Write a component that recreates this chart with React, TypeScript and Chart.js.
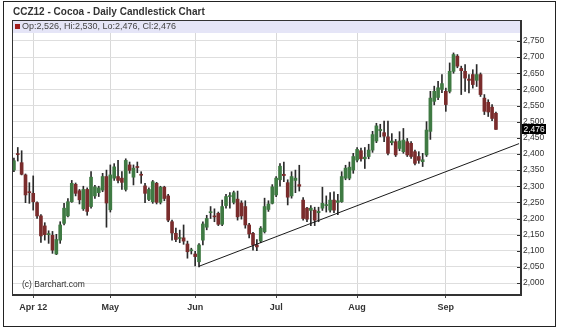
import React, { useEffect, useRef } from 'react';
import { Chart, registerables } from 'chart.js';

Chart.register(...registerables);

const title = 'CCZ12 - Cocoa - Daily Candlestick Chart';
const legendText = 'Op:2,526, Hi:2,530, Lo:2,476, Cl:2,476';
const copyright = '(c) Barchart.com';

const dates = [
  '03-26', '03-27', '03-28', '03-29', '03-30',
  '04-02', '04-03', '04-04', '04-05', '04-09', '04-10', '04-11', '04-12', '04-13', '04-16',
  '04-17', '04-18', '04-19', '04-20', '04-23', '04-24', '04-25', '04-26', '04-27', '04-30',
  '05-01', '05-02', '05-03', '05-04', '05-07', '05-08', '05-09', '05-10', '05-11', '05-14',
  '05-15', '05-16', '05-17', '05-18', '05-21', '05-22', '05-23', '05-24', '05-25', '05-29',
  '05-30', '05-31',
  '06-01', '06-04', '06-05', '06-06', '06-07', '06-08', '06-11', '06-12', '06-13', '06-14',
  '06-15', '06-18', '06-19', '06-20', '06-21', '06-22', '06-25', '06-26', '06-27', '06-28',
  '06-29',
  '07-02', '07-03', '07-05', '07-06', '07-09', '07-10', '07-11', '07-12', '07-13', '07-16',
  '07-17', '07-18', '07-19', '07-20', '07-23', '07-24', '07-25', '07-26', '07-27', '07-30',
  '07-31',
  '08-01', '08-02', '08-03', '08-06', '08-07', '08-08', '08-09', '08-10', '08-13', '08-14',
  '08-15', '08-16', '08-17', '08-20', '08-21', '08-22', '08-23', '08-24', '08-27', '08-28',
  '08-29', '08-30', '08-31',
  '09-04', '09-05', '09-06', '09-07', '09-10', '09-11', '09-12', '09-13', '09-14', '09-17',
  '09-18', '09-19', '09-20', '09-21',
];
const padDates = ['09-24', '09-25', '09-26', '09-27', '09-28', '10-01'];

const opens = [
  2350, 2400, 2373, 2335, 2282, 2278, 2249, 2208, 2177, 2150,
  2148, 2090, 2133, 2185, 2208, 2252, 2306, 2286, 2230, 2290,
  2237, 2270, 2280, 2288, 2330, 2227, 2325, 2330, 2325, 2290,
  2366, 2328, 2360, 2337, 2301, 2259, 2252, 2309, 2250, 2297,
  2270, 2190, 2154, 2138, 2140, 2121, 2100, 2090, 2066, 2133,
  2173, 2218, 2208, 2216, 2182, 2240, 2268, 2250, 2260, 2248,
  2237, 2180, 2154, 2118, 2130, 2159, 2228, 2247, 2273, 2320,
  2337, 2311, 2270, 2318, 2305, 2257, 2232, 2225, 2226, 2218,
  2232, 2240, 2226, 2257, 2250, 2252, 2325, 2325, 2350, 2381,
  2410, 2385, 2392, 2412, 2440, 2472, 2466, 2453, 2435, 2438,
  2417, 2407, 2438, 2433, 2407, 2392, 2376, 2397, 2470, 2563,
  2575, 2600, 2594, 2594, 2656, 2703, 2665, 2656, 2632, 2646,
  2628, 2646, 2573, 2560, 2545, 2526,
];
const highs = [
  2387, 2420, 2410, 2338, 2311, 2332, 2252, 2212, 2187, 2162,
  2160, 2151, 2190, 2247, 2262, 2318, 2310, 2290, 2300, 2295,
  2345, 2303, 2300, 2340, 2350, 2366, 2370, 2380, 2345, 2385,
  2375, 2366, 2375, 2345, 2309, 2295, 2318, 2312, 2300, 2300,
  2275, 2195, 2170, 2164, 2180, 2130, 2108, 2098, 2122, 2190,
  2210, 2237, 2230, 2220, 2257, 2275, 2280, 2285, 2285, 2255,
  2255, 2185, 2157, 2135, 2175, 2263, 2255, 2305, 2330, 2370,
  2375, 2320, 2345, 2350, 2365, 2265, 2235, 2240, 2235, 2235,
  2297, 2270, 2280, 2283, 2275, 2345, 2365, 2375, 2402, 2420,
  2418, 2420, 2430, 2470, 2495, 2492, 2502, 2502, 2463, 2445,
  2469, 2479, 2448, 2438, 2412, 2407, 2402, 2500, 2594, 2610,
  2625, 2646, 2604, 2682, 2713, 2708, 2672, 2677, 2646, 2661,
  2677, 2651, 2584, 2568, 2553, 2530,
];
const lows = [
  2345, 2378, 2335, 2249, 2247, 2226, 2200, 2126, 2133, 2123,
  2092, 2088, 2123, 2180, 2205, 2250, 2270, 2245, 2225, 2210,
  2232, 2262, 2268, 2283, 2173, 2220, 2318, 2310, 2290, 2285,
  2340, 2304, 2342, 2309, 2249, 2255, 2247, 2245, 2245, 2255,
  2190, 2133, 2128, 2125, 2120, 2077, 2090, 2053, 2050, 2118,
  2165, 2200, 2190, 2178, 2178, 2232, 2232, 2245, 2195, 2198,
  2170, 2140, 2102, 2100, 2125, 2155, 2222, 2245, 2268, 2300,
  2314, 2242, 2263, 2280, 2285, 2195, 2190, 2178, 2178, 2190,
  2225, 2220, 2220, 2218, 2212, 2250, 2320, 2320, 2340, 2375,
  2378, 2355, 2385, 2405, 2435, 2453, 2438, 2397, 2428, 2392,
  2410, 2402, 2392, 2386, 2366, 2371, 2361, 2392, 2445, 2552,
  2568, 2590, 2532, 2589, 2650, 2667, 2584, 2594, 2589, 2604,
  2609, 2578, 2522, 2516, 2503, 2476,
];
const closes = [
  2379, 2398, 2337, 2273, 2280, 2252, 2208, 2146, 2150, 2152,
  2102, 2135, 2180, 2232, 2252, 2309, 2278, 2258, 2290, 2222,
  2328, 2298, 2295, 2330, 2248, 2335, 2360, 2318, 2312, 2380,
  2349, 2356, 2358, 2334, 2278, 2290, 2314, 2250, 2297, 2262,
  2195, 2155, 2135, 2140, 2130, 2097, 2102, 2082, 2118, 2183,
  2200, 2220, 2205, 2182, 2237, 2268, 2270, 2280, 2205, 2208,
  2180, 2152, 2118, 2112, 2170, 2237, 2245, 2298, 2325, 2362,
  2333, 2266, 2330, 2325, 2300, 2200, 2198, 2232, 2195, 2222,
  2247, 2242, 2257, 2226, 2255, 2330, 2356, 2359, 2392, 2414,
  2385, 2390, 2412, 2460, 2487, 2476, 2455, 2402, 2440, 2397,
  2440, 2443, 2397, 2392, 2371, 2380, 2382, 2474, 2573, 2594,
  2605, 2618, 2553, 2656, 2708, 2672, 2658, 2635, 2628, 2615,
  2646, 2584, 2532, 2530, 2510, 2476,
];

const monthTicks: Record<string, string> = {
  '04-02': 'Apr 12',
  '05-01': 'May',
  '06-01': 'Jun',
  '07-02': 'Jul',
  '08-01': 'Aug',
  '09-04': 'Sep',
};
const yTicks = [
  2000, 2050, 2100, 2150, 2200, 2250, 2300, 2350, 2400, 2450, 2500, 2550, 2600, 2650, 2700, 2750,
];
const yMin = 1963;
const yMax = 2815;
const trendStart = { date: '06-04', value: 2052 };
const trendEnd = { date: '10-01', value: 2432 };

const FONT = '"Liberation Sans", Arial, Helvetica, sans-serif';
const UP = '#3f7a43';
const DOWN = '#7a2c2c';

const labels = [...dates, ...padDates];
const monthIdx = Object.keys(monthTicks).map((d) => labels.indexOf(d));
const fmt = (v: number) => v.toLocaleString('en-US');

const decor = {
  id: 'decor',
  beforeDraw(chart: any) {
    const { ctx, width, height } = chart;
    ctx.save();
    ctx.fillStyle = '#ffffff';
    ctx.fillRect(0, 0, width, height);
    ctx.restore();
  },
  beforeDatasetsDraw(chart: any) {
    const { ctx, chartArea: a } = chart;
    ctx.save();
    ctx.fillStyle = '#e5e5f7';
    ctx.fillRect(a.left, a.top, a.right - a.left, 13);
    ctx.fillStyle = '#a01c1c';
    ctx.fillRect(a.left + 3, a.top + 4, 5, 5);
    ctx.fillStyle = '#444';
    ctx.font = `9px ${FONT}`;
    ctx.textBaseline = 'middle';
    ctx.textAlign = 'left';
    ctx.fillText(legendText, a.left + 10, a.top + 6.5);
    ctx.font = `8.5px ${FONT}`;
    ctx.fillStyle = '#333';
    ctx.fillText(copyright, a.left + 10, a.bottom - 10);
    ctx.restore();
  },
  afterDraw(chart: any) {
    const { ctx, chartArea: a } = chart;
    const ys = chart.scales.y;
    ctx.save();
    ctx.strokeStyle = '#333';
    ctx.lineWidth = 1;
    ctx.strokeRect(Math.floor(a.left) + 0.5, Math.floor(a.top) + 0.5, Math.round(a.right - a.left) - 1, Math.round(a.bottom - a.top) - 1);
    ctx.beginPath();
    yTicks.forEach((v) => {
      const y = Math.round(ys.getPixelForValue(v)) + 0.5;
      ctx.moveTo(a.right - 4, y);
      ctx.lineTo(a.right, y);
    });
    ctx.stroke();
    ctx.strokeStyle = '#222';
    ctx.strokeRect(3.5, 1.5, 552, 325);
    ctx.fillStyle = '#333';
    ctx.font = `bold 10px ${FONT}`;
    ctx.textBaseline = 'middle';
    ctx.textAlign = 'left';
    ctx.fillText(title, 13, 12);
    const last = closes[closes.length - 1];
    const py = ys.getPixelForValue(last);
    ctx.fillStyle = '#000';
    ctx.fillRect(a.right + 1, Math.round(py) - 5, 24, 10);
    ctx.fillStyle = '#fff';
    ctx.font = `8.5px ${FONT}`;
    ctx.fillText(fmt(last), a.right + 2.5, py);
    ctx.restore();
  },
};

export default function App() {
  const ref = useRef<HTMLCanvasElement>(null);
  useEffect(() => {
    const n = dates.length;
    const bodies = labels.map((_, i) => (i < n ? [opens[i], closes[i]] : null));
    const wicks = labels.map((_, i) => (i < n ? [lows[i], highs[i]] : null));
    const colors = labels.map((_, i) => (i < n && closes[i] >= opens[i] ? UP : DOWN));
    const chart = new Chart(ref.current as HTMLCanvasElement, {
      type: 'bar',
      data: {
        labels,
        datasets: [
          {
            type: 'line',
            data: [
              { x: trendStart.date, y: trendStart.value },
              { x: trendEnd.date, y: trendEnd.value },
            ] as any,
            borderColor: '#1a1a1a',
            borderWidth: 1,
            pointRadius: 0,
            order: 0,
          } as any,
          {
            type: 'bar',
            data: bodies as any,
            backgroundColor: colors,
            barThickness: 3,
            grouped: false,
            minBarLength: 1,
            order: 1,
          } as any,
          {
            type: 'bar',
            data: wicks as any,
            backgroundColor: '#2a2a2a',
            barThickness: 1,
            grouped: false,
            order: 2,
          } as any,
        ],
      },
      options: {
        responsive: false,
        devicePixelRatio: 1,
        animation: false,
        events: [],
        layout: { padding: { left: 12, top: 20, right: 0, bottom: 0 } },
        plugins: { legend: { display: false }, tooltip: { enabled: false }, title: { display: false } },
        scales: {
          x: {
            type: 'category',
            offset: true,
            grid: {
              offset: false,
              color: '#d8d8d8',
              tickLength: 3,
              tickColor: '#444',
            },
            border: { color: '#333' },
            ticks: {
              autoSkip: false,
              maxRotation: 0,
              padding: 4,
              color: '#333',
              font: { family: FONT, size: 9, weight: 'bold' },
              callback: (v: any) => monthTicks[labels[v]] ?? '',
            },
            afterBuildTicks: (scale: any) => {
              scale.ticks = monthIdx.map((i) => ({ value: i }));
            },
            afterFit: (scale: any) => {
              scale.height = 38;
            },
          },
          y: {
            position: 'right',
            min: yMin,
            max: yMax,
            grid: { color: '#dedede', drawTicks: false },
            border: { color: '#333' },
            ticks: {
              padding: 2,
              color: '#333',
              font: { family: FONT, size: 8.5 },
              callback: (v: any) => fmt(Number(v)),
            },
            afterBuildTicks: (scale: any) => {
              scale.ticks = yTicks.map((v) => ({ value: v }));
            },
            afterFit: (scale: any) => {
              scale.width = 40;
            },
          },
        },
      } as any,
      plugins: [decor],
    });
    return () => chart.destroy();
  }, []);
  return (
    <div style={{ position: 'fixed', left: 0, top: 0, width: 561, height: 333, background: '#fff' }}>
      <canvas ref={ref} width={561} height={333} style={{ display: 'block', width: 561, height: 333 }} />
    </div>
  );
}
